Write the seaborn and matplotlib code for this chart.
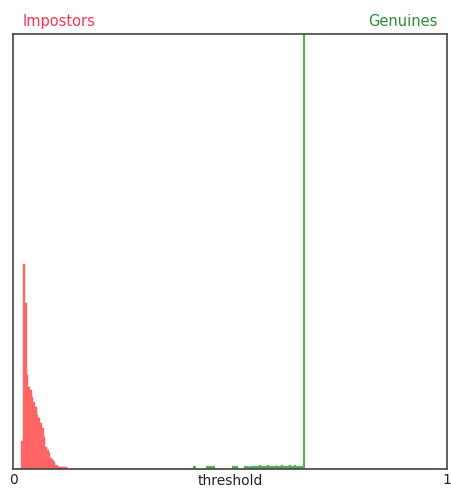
import numpy as np
import pandas as pd
import matplotlib
matplotlib.use("Agg")
import matplotlib.pyplot as plt
import seaborn as sns

# ---- data (histogram counts on 256 equal bins over [0, 1]) ----
n_bins = 256
impostor_first_bin = 5
impostor_counts = [28, 205, 166, 94, 82, 79, 72, 67, 62, 54, 51, 46, 41, 32,
                   22, 19, 16, 11, 9, 7, 4, 3, 2, 2, 2, 2, 2]
genuine_first_bin = 106
genuine_counts = ([3, 3] + [0] * 6 + [3] * 5 + [0] * 10 + [3] * 4 + [0] * 3 +
                  [3, 3, 3, 2] +
                  [3, 3, 3, 3, 3, 4, 3, 3, 3, 3, 4, 3, 3, 3, 3, 4, 3, 3, 4, 3,
                   3, 3, 3, 4, 3, 3, 4, 3, 3, 3] +
                  [3, 1000])
x_tick_labels = ["0", "1"]
axis_label = "threshold"
series_names = ["Impostors", "Genuines"]

edges = np.linspace(0, 1, n_bins + 1)
centers = (edges[:-1] + edges[1:]) / 2

imp_df = pd.DataFrame({
    "score": centers[impostor_first_bin:impostor_first_bin + len(impostor_counts)],
    "count": impostor_counts})
gen_df = pd.DataFrame({
    "score": centers[genuine_first_bin:genuine_first_bin + len(genuine_counts)],
    "count": genuine_counts})

sns.set_style("white")
fig = plt.figure(figsize=(4.51, 4.92), dpi=100)
ax = fig.add_axes([13 / 451, (492 - 469) / 492, 434 / 451, 435 / 492])

sns.histplot(data=imp_df, x="score", weights="count", bins=list(edges), ax=ax,
             color="#ff5c5c", alpha=0.9, linewidth=0.3, edgecolor="#ff5c5c",
             element="bars")
sns.histplot(data=gen_df, x="score", weights="count", bins=list(edges), ax=ax,
             color="#48a848", alpha=0.9, linewidth=0.1, edgecolor="#48a848",
             element="bars")

ax.set_xlim(0, 1)
ax.set_ylim(0, 435)
ax.set_yticks([])
ax.set_xticks([0, 1])
ax.set_xticklabels(x_tick_labels, fontsize=10, color="#222222")
ax.tick_params(axis="x", length=0, pad=3)
ax.set_ylabel("")
ax.set_xlabel(axis_label, fontsize=10, color="#222222")
ax.xaxis.set_label_coords(0.5, -0.012)
ax.xaxis.label.set_va("top")

for s in ax.spines.values():
    s.set_color("#444444")
    s.set_linewidth(1.2)

ax.text(0.023, 1.018, series_names[0], transform=ax.transAxes, ha="left",
        va="baseline", fontsize=10.5, color="#ff3355")
ax.text(0.979, 1.018, series_names[1], transform=ax.transAxes, ha="right",
        va="baseline", fontsize=10.5, color="#2e8b3e")

fig.savefig("out.png", dpi=100, facecolor="white")
